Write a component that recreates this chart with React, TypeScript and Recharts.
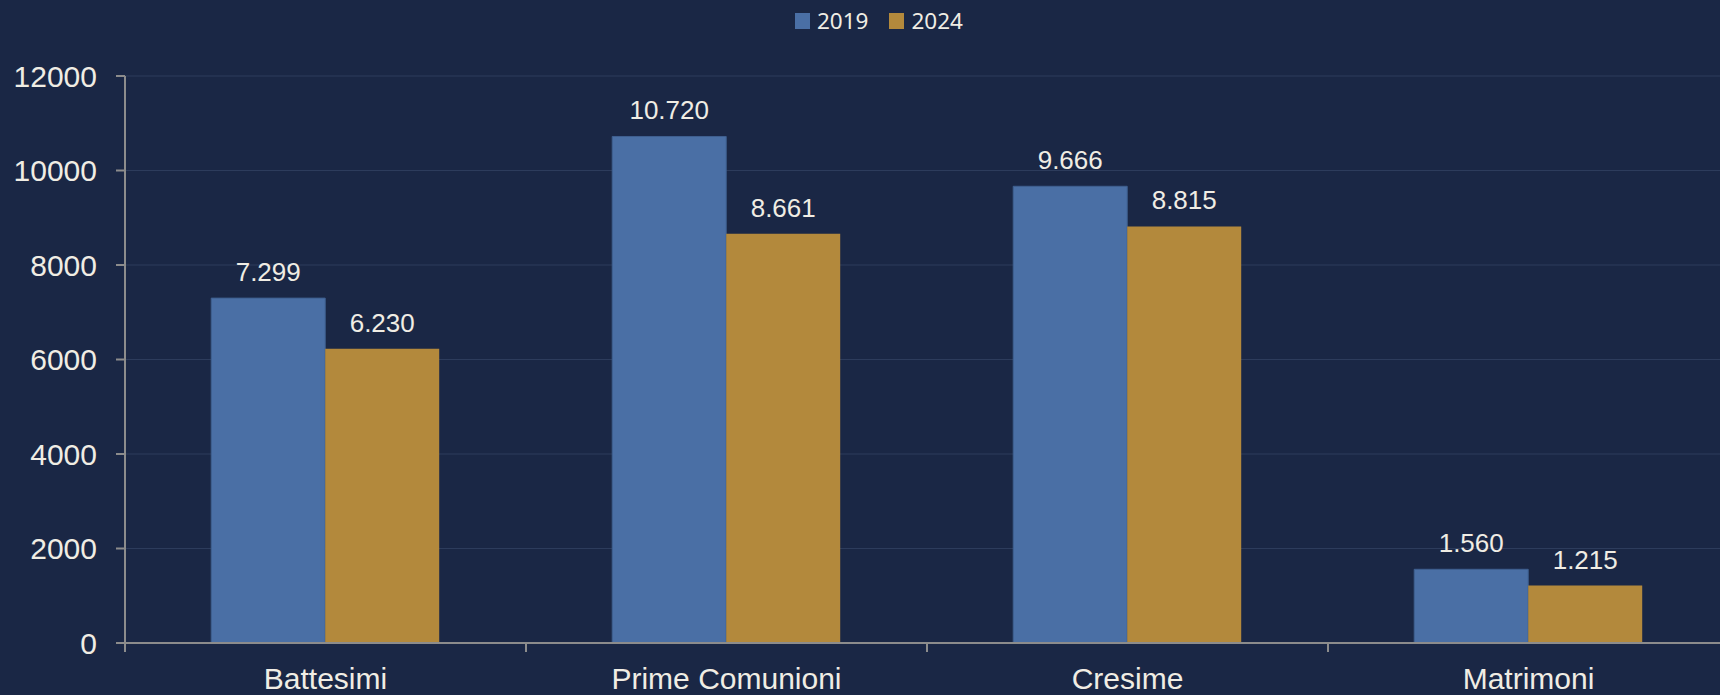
import { Bar, BarChart, CartesianGrid, LabelList, Legend, XAxis, YAxis } from "recharts";

const categories = ["Battesimi", "Prime Comunioni", "Cresime", "Matrimoni"];
const values2019 = [7299, 10720, 9666, 1560];
const values2024 = [6230, 8661, 8815, 1215];
const yTicks = [0, 2000, 4000, 6000, 8000, 10000, 12000];

const data = categories.map((name, i) => ({
  name,
  y2019: values2019[i],
  y2024: values2024[i],
}));

const BG = "#1a2745";
const TEXT = "#f0ede4";
const BLUE = "#4a6fa5";
const GOLD = "#b3893c";
const AXIS = "#8c8c8c";
const FONT = "'Liberation Sans', Arial, sans-serif";
const TICK_SIZE = 9;
const TICK_MARGIN = 16;

const fmt = (v: any) => String(v).replace(/\B(?=(\d{3})+(?!\d))/g, ".");

function CategoryTick(props: any) {
  const { x, y, payload, width, visibleTicksCount } = props;
  const band = width / visibleTicksCount;
  const axisY = y - TICK_MARGIN - TICK_SIZE;
  return (
    <g>
      <line x1={x - band / 2} x2={x - band / 2} y1={axisY} y2={axisY + TICK_SIZE} stroke={AXIS} strokeWidth={2} />
      <text x={x} y={y} dy="0.71em" textAnchor="middle" fill={TEXT} fontSize={30} fontFamily={FONT}>
        {payload.value}
      </text>
    </g>
  );
}

function LegendContent() {
  const items = [
    { label: "2019", color: BLUE },
    { label: "2024", color: GOLD },
  ];
  return (
    <div style={{ display: "flex", alignItems: "center" }}>
      {items.map((it, i) => (
        <div key={it.label} style={{ display: "flex", alignItems: "center", marginRight: i === 0 ? 21 : 0 }}>
          <div style={{ width: 15, height: 16, background: it.color, marginRight: 7 }} />
          <span style={{ color: TEXT, fontSize: 22.5, lineHeight: "16px", fontFamily: "'Noto Sans', sans-serif" }}>
            {it.label}
          </span>
        </div>
      ))}
    </div>
  );
}

export default function App() {
  return (
    <div
      style={{
        position: "absolute",
        left: 0,
        top: 0,
        width: 1720,
        height: 695,
        overflow: "hidden",
        background: BG,
      }}
    >
      <BarChart
        width={1740}
        height={695}
        data={data}
        margin={{ top: 76, right: 11, bottom: 0, left: 0 }}
        barCategoryGap="21.5%"
        barGap={0}
      >
        <CartesianGrid stroke="#2d3c5c" vertical={false} />
        <XAxis
          dataKey="name"
          height={52}
          axisLine={{ stroke: AXIS, strokeWidth: 2 }}
          tickLine={false}
          tickSize={TICK_SIZE}
          tickMargin={TICK_MARGIN}
          tick={<CategoryTick />}
          interval={0}
        />
        <YAxis
          width={125}
          domain={[0, 12000]}
          ticks={yTicks}
          axisLine={{ stroke: AXIS, strokeWidth: 2 }}
          tickLine={{ stroke: AXIS, strokeWidth: 2 }}
          tickSize={TICK_SIZE}
          tickMargin={19}
          tick={{ fill: TEXT, fontSize: 30, fontFamily: FONT }}
        />
        <Legend
          verticalAlign="middle"
          content={<LegendContent />}
          wrapperStyle={{ top: 13, left: 795, width: 240, height: 16 }}
        />
        <Bar dataKey="y2019" name="2019" fill={BLUE} stroke="#3f5f8f" strokeWidth={1} isAnimationActive={false}>
          <LabelList dataKey="y2019" position="top" offset={17} fill={TEXT} fontSize={26} fontFamily={FONT} formatter={fmt} />
        </Bar>
        <Bar dataKey="y2024" name="2024" fill={GOLD} isAnimationActive={false}>
          <LabelList dataKey="y2024" position="top" offset={17} fill={TEXT} fontSize={26} fontFamily={FONT} formatter={fmt} />
        </Bar>
      </BarChart>
    </div>
  );
}
